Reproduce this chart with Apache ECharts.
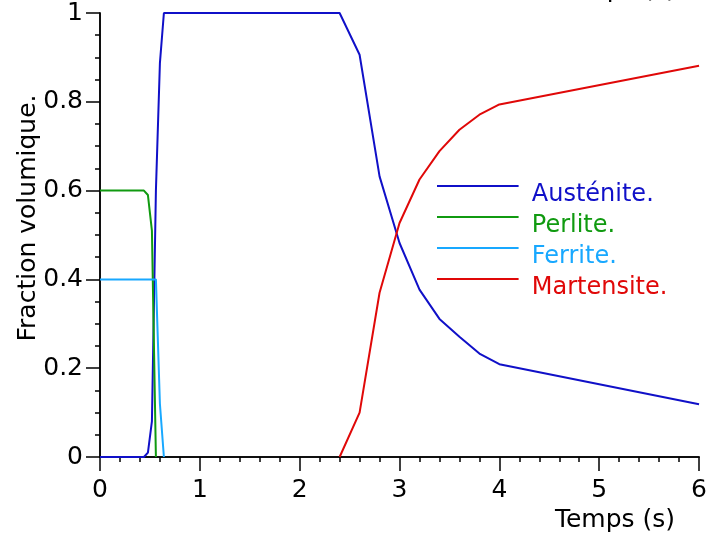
<!DOCTYPE html>
<html>
<head>
<meta charset="utf-8">
<script src="https://cdn.jsdelivr.net/npm/echarts@6/dist/echarts.min.js"></script>
<style>
html,body{margin:0;padding:0;background:#fff;}
#chart{width:710px;height:533px;}
</style>
</head>
<body>
<div id="chart"></div>
<script>
// Time (s)
var times = [0, 0.44, 0.48, 0.52, 0.56, 0.6, 0.64, 2.4, 2.6, 2.8, 3.0, 3.2, 3.4, 3.6, 3.8, 4.0, 6.0];
var austenite  = [0, 0, 0.01, 0.08, 0.6, 0.887, 1, 1, 0.906, 0.632, 0.482, 0.377, 0.311, 0.271, 0.233, 0.209, 0.119];
var perlite    = [0.6, 0.6, 0.59, 0.51, 0, null, null, null, null, null, null, null, null, null, null, null, null];
var ferrite    = [0.4, 0.4, 0.4, 0.4, 0.4, 0.12, 0, null, null, null, null, null, null, null, null, null, null];
var martensite = [null, null, null, null, null, null, null, 0, 0.10, 0.37, 0.527, 0.625, 0.689, 0.737, 0.771, 0.794, 0.881];
var seriesNames = ['Austénite.', 'Perlite.', 'Ferrite.', 'Martensite.'];
var seriesColors = ['#1010c8', '#109a10', '#18a8ff', '#e00808'];
var xTitle = 'Temps (s)';
var yTitle = 'Fraction volumique.';

function pairs(vals) {
  var out = [];
  for (var i = 0; i < times.length; i++) {
    if (vals[i] !== null) out.push([times[i], vals[i]]);
  }
  return out;
}
var allVals = [austenite, perlite, ferrite, martensite];
var FONT = 'DejaVu Sans';
var chart = echarts.init(document.getElementById('chart'), null, {renderer: 'canvas'});
var series = allVals.map(function (v, i) {
  return {
    name: seriesNames[i],
    type: 'line',
    data: pairs(v),
    symbol: 'none',
    showSymbol: false,
    animation: false,
    lineStyle: {color: seriesColors[i], width: 2},
    itemStyle: {color: seriesColors[i]},
    z: 3 + i
  };
});
var axisLineStyle = {color: '#000', width: 1.5};
chart.setOption({
  animation: false,
  backgroundColor: '#fff',
  grid: {left: 100, right: 10, top: 13, bottom: 75, containLabel: false},
  legend: {
    orient: 'vertical',
    left: 432,
    top: 178,
    itemWidth: 90,
    itemHeight: 20,
    itemGap: 7,
    icon: 'path://M0,0L82,0L82,2L0,2Z M89.9,20L90,20L90,20.1L89.9,20.1Z',
    data: seriesNames.map(function (n, i) {
      return {name: n, textStyle: {color: seriesColors[i]}};
    }),
    textStyle: {fontFamily: FONT, fontSize: 24},
    selectedMode: false
  },
  graphic: [{
    type: 'text',
    style: {text: xTitle, x: 676, y: 3, align: 'right', verticalAlign: 'bottom', font: '25px "DejaVu Sans"', fill: '#000'}
  }],
  xAxis: [{
    type: 'value', min: 0, max: 6, interval: 1, position: 'bottom',
    axisLine: {show: true, lineStyle: axisLineStyle},
    axisTick: {show: true, inside: false, length: 14, lineStyle: axisLineStyle},
    minorTick: {show: true, splitNumber: 5, length: 5, lineStyle: {color: '#000', width: 1.5}},
    splitLine: {show: false},
    axisLabel: {color: '#000', fontFamily: FONT, fontSize: 25, margin: 21},
    name: xTitle, nameLocation: 'end', nameGap: -24, nameMoveOverlap: false,
    nameTextStyle: {color: '#000', fontFamily: FONT, fontSize: 25, align: 'right', verticalAlign: 'top', padding: [51, 0, 0, 0]}
  }, {
    type: 'value', min: 0, max: 6, interval: 1, position: 'top',
    axisLine: {show: true, lineStyle: axisLineStyle},
    axisTick: {show: false}, axisLabel: {show: false}, splitLine: {show: false}
  }],
  yAxis: [{
    type: 'value', min: 0, max: 1, interval: 0.2, position: 'left',
    axisLine: {show: true, lineStyle: axisLineStyle},
    axisTick: {show: true, inside: false, length: 14, lineStyle: axisLineStyle},
    minorTick: {show: true, splitNumber: 4, length: 5, lineStyle: {color: '#000', width: 1.5}},
    splitLine: {show: false},
    axisLabel: {color: '#000', fontFamily: FONT, fontSize: 25, margin: 17},
    name: yTitle, nameLocation: 'middle', nameGap: 59, nameRotate: 90, nameMoveOverlap: false,
    nameTextStyle: {color: '#000', fontFamily: FONT, fontSize: 25, padding: [0, 0, 0, 34]}
  }, {
    type: 'value', min: 0, max: 1, interval: 0.2, position: 'right',
    axisLine: {show: true, lineStyle: axisLineStyle},
    axisTick: {show: false}, axisLabel: {show: false}, splitLine: {show: false}
  }],
  series: series
});
</script>
</body>
</html>
